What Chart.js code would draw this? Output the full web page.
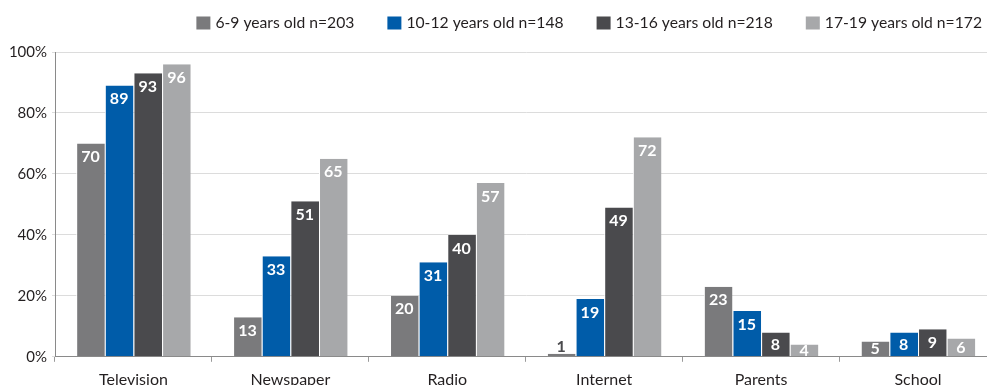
<!DOCTYPE html>
<html>
<head>
<meta charset="utf-8">
<script src="https://cdn.jsdelivr.net/npm/chart.js@4/dist/chart.umd.min.js"></script>
<style>
  html, body { margin: 0; padding: 0; background: #fff; overflow: hidden; }
  #wrap { position: relative; width: 1000px; height: 397px; }
</style>
</head>
<body>
<div id="wrap"><canvas id="c"></canvas></div>
<script>
const categories = ["Television", "Newspaper", "Radio", "Internet", "Parents", "School"];
const seriesNames = ["6-9 years old n=203", "10-12 years old n=148", "13-16 years old n=218", "17-19 years old n=172"];
const age6to9   = [70, 13, 20, 1, 23, 5];
const age10to12 = [89, 33, 31, 19, 15, 8];
const age13to16 = [93, 51, 40, 49, 8, 9];
const age17to19 = [96, 65, 57, 72, 4, 6];
const yTicks = [0, 20, 40, 60, 80, 100];

const colors = ["#7a7a7c", "#005ca9", "#4a4a4d", "#a7a8aa"];
const FONT = "Lato, 'Open Sans', sans-serif";

const labelPlugin = {
  id: 'barLabels',
  afterDatasetsDraw(chart) {
    const ctx = chart.ctx;
    const area = chart.chartArea;
    ctx.save();
    ctx.beginPath();
    ctx.rect(area.left, area.top - 30, area.right - area.left, area.bottom - area.top + 30);
    ctx.clip();
    ctx.font = "bold 16px " + FONT;
    ctx.textAlign = 'center';
    ctx.textBaseline = 'middle';
    chart.data.datasets.forEach((ds, i) => {
      const meta = chart.getDatasetMeta(i);
      meta.data.forEach((bar, j) => {
        const v = ds.data[j];
        if (v < 3) {
          ctx.fillStyle = '#4a4a4d';
          ctx.fillText(String(v), bar.x, bar.y - 7);
        } else {
          ctx.fillStyle = '#ffffff';
          const y = Math.min(bar.y + 13.5, (bar.y + bar.base) / 2);
          ctx.fillText(String(v), bar.x, y);
        }
      });
    });
    ctx.restore();
  }
};

const legendPlugin = {
  id: 'customLegend',
  afterDraw(chart) {
    const ctx = chart.ctx;
    ctx.save();
    ctx.font = "15.7px " + FONT;
    ctx.textBaseline = 'middle';
    ctx.textAlign = 'left';
    const box = 14, boxH = 13, gapText = 5, gapItem = 33;
    const rightEnd = 982, yMid = 23;
    const items = chart.data.datasets.map(d => ({ text: d.label, color: d.backgroundColor, w: ctx.measureText(d.label).width }));
    let total = 0;
    items.forEach((it, k) => { total += box + gapText + it.w + (k < items.length - 1 ? gapItem : 0); });
    let x = rightEnd - total;
    items.forEach(it => {
      ctx.fillStyle = it.color;
      ctx.fillRect(x, yMid - boxH / 2, box, boxH);
      ctx.fillStyle = '#231f20';
      ctx.fillText(it.text, x + box + gapText, yMid);
      x += box + gapText + it.w + gapItem;
    });
    ctx.restore();
  }
};

const datasets = [age6to9, age10to12, age13to16, age17to19].map((d, i) => ({
  label: seriesNames[i],
  data: d,
  backgroundColor: colors[i],
  borderColor: '#ffffff',
  borderWidth: { left: 1, right: 0, top: 0, bottom: 0 },
  borderSkipped: false
}));

new Chart(document.getElementById('c'), {
  type: 'bar',
  data: { labels: categories, datasets },
  plugins: [labelPlugin, legendPlugin],
  options: {
    responsive: true,
    maintainAspectRatio: false,
    animation: false,
    layout: { padding: { left: 0, right: 3.5, top: 52, bottom: 0 } },
    datasets: { bar: { categoryPercentage: 0.73, barPercentage: 1.0 } },
    plugins: {
      tooltip: { enabled: false },
      legend: { display: false }
    },
    scales: {
      x: {
        grid: { display: true, drawOnChartArea: false, drawTicks: true, tickLength: 5, color: '#9a9a9a', offset: true },
        border: { display: true, color: '#8a8a8a' },
        ticks: { color: '#231f20', font: { family: FONT, size: 16 }, padding: 8 }
      },
      y: {
        min: 0, max: 100,
        afterBuildTicks: (s) => { s.ticks = yTicks.map(v => ({ value: v })); },
        afterFit: (s) => { s.width = 55; },
        grid: { color: '#dcdcdc', tickLength: 3 },
        border: { display: true, color: '#8a8a8a' },
        ticks: { color: '#231f20', font: { family: FONT, size: 15 }, padding: 5, callback: (v) => v + '%' }
      }
    }
  }
});
</script>
</body>
</html>
